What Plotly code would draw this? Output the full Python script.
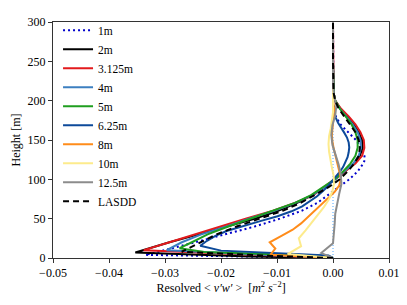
import plotly.graph_objects as go

# ---- data (heights in m, resolved <v'w'> in m^2 s^-2) ----
h_1m = [0, 4, 10, 20, 30, 40, 50, 60, 70, 80, 90, 100, 110, 120, 125, 130, 140, 150, 160, 170, 180, 190, 200, 250, 300]
v_1m = [0, -0.0335, -0.0300, -0.0245, -0.0190, -0.0140, -0.0095, -0.0056, -0.0028, -0.0008, 0.0010, 0.0029, 0.0044,
        0.0054, 0.0057, 0.0056, 0.0050, 0.0041, 0.0027, 0.0013, 0.0005, 0.0002, 0.0001, 0, 0]

h_2m = [0, 2, 7, 11, 20, 30, 40, 50, 60, 70, 80, 90, 100, 110, 120, 130, 140, 150, 160, 170, 180, 190, 200, 210, 250, 300]
v_2m = [0, -0.0150, -0.0353, -0.0335, -0.0292, -0.0240, -0.0188, -0.0140, -0.0098, -0.0064, -0.0037, -0.0015, 0.0004,
        0.0022, 0.0038, 0.0048, 0.0053, 0.0052, 0.0046, 0.0037, 0.0025, 0.0013, 0.0004, 0.0001, 0, 0]

h_3m = [0, 10, 20, 30, 40, 50, 60, 70, 80, 90, 100, 110, 120, 130, 140, 150, 160, 170, 180, 190, 200, 210, 250, 300]
v_3m = [0, -0.0338, -0.0292, -0.0247, -0.0202, -0.0156, -0.0107, -0.0068, -0.0035, -0.0016, 0.0002, 0.0022, 0.0040,
        0.0052, 0.0056, 0.0055, 0.0049, 0.0040, 0.0028, 0.0014, 0.0004, 0.0001, 0, 0]

h_4m = [0, 10, 20, 30, 40, 50, 60, 70, 80, 90, 100, 110, 120, 130, 140, 150, 160, 170, 180, 190, 200, 210, 250, 300]
v_4m = [0, -0.0297, -0.0270, -0.0235, -0.0190, -0.0150, -0.0105, -0.0067, -0.0037, -0.0015, 0.0004, 0.0021, 0.0036,
        0.0046, 0.0050, 0.0049, 0.0044, 0.0035, 0.0024, 0.0012, 0.0004, 0.0001, 0, 0]

h_5m = [0, 2.5, 7.5, 12.5, 20, 30, 40, 50, 60, 70, 80, 90, 100, 110, 120, 130, 140, 150, 160, 170, 180, 190, 200, 210, 250, 300]
v_5m = [0, -0.0010, -0.0230, -0.0274, -0.0252, -0.0224, -0.0187, -0.0148, -0.0105, -0.0068, -0.0039, -0.0017, 0.0003,
        0.0018, 0.0031, 0.0040, 0.0044, 0.0044, 0.0040, 0.0033, 0.0023, 0.0012, 0.0004, 0.0001, 0, 0]

h_6m = [0, 3.125, 9.375, 15.625, 21.875, 28.125, 34.375, 40.625, 46.875, 53.125, 59.375, 65.625, 71.875, 78.125,
        84.375, 90.625, 96.875, 103.125, 109.375, 115.625, 121.875, 128.125, 134.375, 140.625, 146.875, 153.125,
        159.375, 165.625, 171.875, 178.125, 184.375, 190.625, 196.875, 250, 300]
v_6m = [0, -0.0008, -0.0200, -0.0237, -0.0225, -0.0210, -0.0190, -0.0162, -0.0130, -0.0099, -0.0074, -0.0055,
        -0.0041, -0.0029, -0.0019, -0.0010, -0.0003, 0.0005, 0.0012, 0.0018, 0.0022, 0.0026, 0.0028, 0.0029, 0.0028,
        0.0025, 0.0020, 0.0014, 0.0009, 0.0005, 0.0002, 0.0001, 0, 0, 0]

h_8m = [0, 4, 12, 20, 28, 36, 44, 52, 60, 68, 76, 84, 92, 100, 108, 116, 124, 132, 140, 148, 156, 164, 172, 180,
        188, 196, 204, 250, 300]
v_8m = [0, -0.0112, -0.0103, -0.0113, -0.0092, -0.0072, -0.0057, -0.0045, -0.0033, -0.0020, -0.0008, 0.0003, 0.0011,
        0.0014, 0.0012, 0.0009, 0.0006, 0.0003, 0.0001, -0.0001, -0.0002, -0.0001, 0, 0.0001, 0.0002, 0.0001, 0, 0, 0]

h_10m = [0, 5, 15, 25, 35, 45, 55, 65, 75, 85, 95, 105, 115, 125, 135, 145, 155, 165, 175, 185, 195, 205, 250, 300]
v_10m = [0, -0.0081, -0.0057, -0.0061, -0.0049, -0.0038, -0.0027, -0.0016, -0.0007, -0.0001, 0.0002, 0.0001,
         -0.0002, -0.0005, -0.0007, -0.0008, -0.0007, -0.0004, -0.0002, 0, 0, 0, 0, 0]

h_12m = [0, 6.25, 18.75, 31.25, 43.75, 56.25, 68.75, 81.25, 93.75, 106.25, 118.75, 131.25, 143.75, 156.25, 168.75,
         181.25, 193.75, 206.25, 218.75, 300]
v_12m = [0, -0.0021, 0.0000, 0.0002, 0.0003, 0.0004, 0.0007, 0.0011, 0.0015, 0.0014, 0.0010, 0.0004, -0.0001,
         -0.0003, -0.0001, 0.0004, 0.0006, 0.0002, 0, 0]

h_lasdd = [0, 3, 8, 15, 20, 30, 40, 50, 60, 70, 80, 90, 100, 110, 120, 130, 140, 150, 160, 170, 180, 190, 200, 210, 250, 300]
v_lasdd = [0, -0.0120, -0.0270, -0.0250, -0.0238, -0.0208, -0.0172, -0.0130, -0.0090, -0.0058, -0.0032, -0.0008,
           0.0012, 0.0026, 0.0038, 0.0046, 0.0048, 0.0046, 0.0040, 0.0030, 0.0020, 0.0010, 0.0004, 0.0001, 0, 0]

labels = ["1m", "2m", "3.125m", "4m", "5m", "6.25m", "8m", "10m", "12.5m", "LASDD"]
colors = ["#0000cc", "#000000", "#e31a1c", "#3c7fc0", "#1f9e1f", "#0d4a9a", "#ff8c1a", "#fdeb8c", "#8c8c8c", "#000000"]
dashes = ["2px,3px", "solid", "solid", "solid", "solid", "solid", "solid", "solid", "solid", "6px,4px"]

series = [(h_1m, v_1m), (h_2m, v_2m), (h_3m, v_3m), (h_4m, v_4m), (h_5m, v_5m), (h_6m, v_6m),
          (h_8m, v_8m), (h_10m, v_10m), (h_12m, v_12m), (h_lasdd, v_lasdd)]

FONT = "'Liberation Serif', 'DejaVu Serif', serif"

fig = go.Figure()
for (h, v), lab, col, d in zip(series, labels, colors, dashes):
    fig.add_trace(go.Scatter(x=v, y=h, mode="lines", name=lab,
                             line=dict(color=col, width=2, dash=d)))

fig.add_shape(type="line", xref="x", yref="paper", x0=0, x1=0, y0=0, y1=1,
              line=dict(color="#1e90ff", width=0.8, dash="1px,2px"), layer="below")

# page body has an 8px default margin, so the figure is sized to fit the window
fig.update_layout(
    width=399, height=297,
    margin=dict(l=43, r=12, t=7, b=47),
    paper_bgcolor="white", plot_bgcolor="white",
    font=dict(family=FONT, size=12, color="black"),
    showlegend=True,
    legend=dict(x=0.015, y=1.026, xanchor="left", yanchor="top", bgcolor="rgba(0,0,0,0)",
                font=dict(family=FONT, size=11.5), itemwidth=30, tracegroupgap=0, maxheight=400),
    xaxis=dict(range=[-0.05, 0.01], tickvals=[-0.05, -0.04, -0.03, -0.02, -0.01, 0.0, 0.01],
               tickformat=".2f", showgrid=False, zeroline=False, showline=True, mirror=True,
               linecolor="#333", linewidth=1, ticks="outside", ticklen=4, tickcolor="#333",
               title=dict(text="Resolved &lt; <i>v′w′</i> &gt;  [<i>m</i><sup>2</sup> <i>s</i><sup>−2</sup>]",
                          standoff=4, font=dict(size=12))),
    yaxis=dict(range=[0, 300], tickvals=[0, 50, 100, 150, 200, 250, 300],
               showgrid=False, zeroline=False, showline=True, mirror=True,
               linecolor="#333", linewidth=1, ticks="outside", ticklen=4, tickcolor="#333",
               title=dict(text="Height [m]", standoff=4, font=dict(size=12))),
)

fig.write_html("out.html")
